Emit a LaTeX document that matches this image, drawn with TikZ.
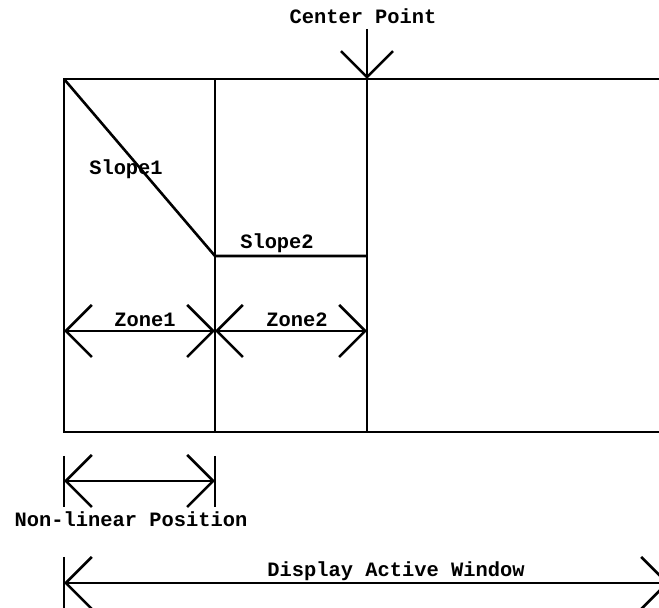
\documentclass[tikz,border=0pt]{standalone}
\usepackage{fontspec}
\setmonofont{Liberation Mono}
\usetikzlibrary{arrows.meta}

\begin{document}
\begin{tikzpicture}[
    x=0.5pt, y=-0.5pt,
    line width=1.3pt,
    lbl/.style={font=\ttfamily\bfseries\fontsize{10.2}{12}\selectfont, inner sep=0pt, anchor=base},
    dimline/.style={{Straight Barb[length=13pt,width=26pt]}-{Straight Barb[length=13pt,width=26pt]}},
    pointer/.style={-{Straight Barb[length=13pt,width=26pt]}},
  ]
    \clip (0,0) rectangle (659,608);
    % window frame
    \coordinate (tl) at (64,79);
    \coordinate (bl) at (64,432);
    \coordinate (tr) at (659,79);
    \coordinate (br) at (659,432);
    \coordinate (zt) at (215,79);
    \coordinate (zb) at (215,432);
    \coordinate (ct) at (367,79);
    \coordinate (cb) at (367,432);
    \draw (tr) -- (tl) -- (bl) -- (br);
    \draw (zt) -- (zb);
    \draw (ct) -- (cb);
    % center point
    \node[lbl] (cp) at (363,24) {Center Point};
    \coordinate (cpt) at (367,29);
    \draw[pointer] (cpt) -- (ct);
    % slopes
    \coordinate (knee) at (215,256);
    \coordinate (flat) at (367,256);
    \draw (tl) -- (knee) -- (flat);
    \node[lbl] (s1) at (126,175) {Slope1};
    \node[lbl] (s2) at (277,249) {Slope2};
    % zones
    \coordinate (za) at (64,331);
    \coordinate (zm) at (215,331);
    \coordinate (zc) at (367,331);
    \draw[dimline] (za) -- (zm);
    \draw[dimline] (zm) -- (zc);
    \node[lbl] (z1) at (145,327) {Zone1};
    \node[lbl] (z2) at (297,327) {Zone2};
    % non-linear position
    \coordinate (na) at (64,456);
    \coordinate (nb) at (64,507);
    \coordinate (nc) at (215,456);
    \coordinate (nd) at (215,507);
    \draw (na) -- (nb);
    \draw (nc) -- (nd);
    \coordinate (nl) at (64,481);
    \coordinate (nr) at (215,481);
    \draw[dimline] (nl) -- (nr);
    \node[lbl] (np) at (131,527) {Non-linear Position};
    % display active window
    \coordinate (da) at (64,557);
    \coordinate (db) at (64,610);
    \draw (da) -- (db);
    \coordinate (dl) at (64,583);
    \coordinate (dr) at (669,583);
    \draw[dimline] (dl) -- (dr);
    \node[lbl] (dw) at (396,577) {Display Active Window};
\end{tikzpicture}
\end{document}
